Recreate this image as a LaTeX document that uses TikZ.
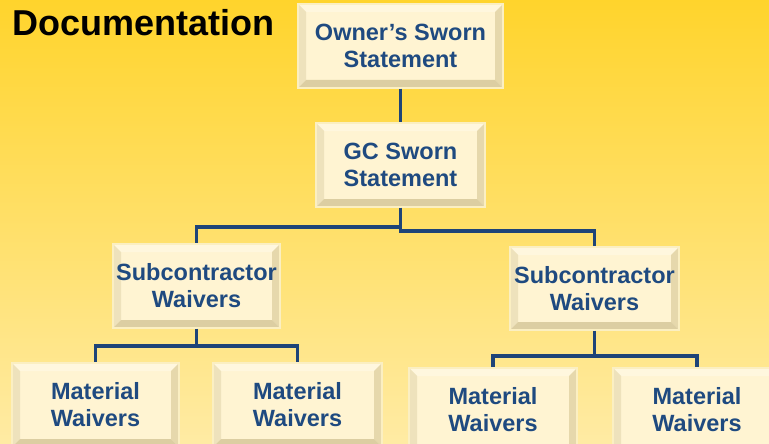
\documentclass[tikz,border=0pt]{standalone}
\usepackage{fontspec}
\setmainfont{Liberation Sans}
\usetikzlibrary{calc}
\definecolor{bgtop}{HTML}{FFD42C}
\definecolor{bgbot}{HTML}{FFEBA4}
\definecolor{face}{HTML}{FFF4D2}
\definecolor{bvtop}{HTML}{FFF7DE}
\definecolor{bvleft}{HTML}{EEE2BC}
\definecolor{bvbot}{HTML}{DCCEA2}
\definecolor{bvright}{HTML}{E6D8AC}
\definecolor{rim}{HTML}{FBEFC2}
\definecolor{txt}{HTML}{1F4A80}
\definecolor{conn}{HTML}{1E4478}
\begin{document}
\begin{tikzpicture}[x=1pt,y=-1pt,
  bevel/.style={path picture={
    \coordinate (pSW) at (path picture bounding box.south west);
    \coordinate (pNW) at (path picture bounding box.north west);
    \coordinate (pNE) at (path picture bounding box.north east);
    \coordinate (pSE) at (path picture bounding box.south east);
    \fill[bvtop] (pNW) -- (pNE) -- ([shift={(-8pt,-8pt)}]pNE) -- ([shift={(8pt,-8pt)}]pNW) -- cycle;
    \fill[bvleft] (pSW) -- (pNW) -- ([shift={(8pt,-8pt)}]pNW) -- ([shift={(8pt,8pt)}]pSW) -- cycle;
    \fill[bvright] (pSE) -- (pNE) -- ([shift={(-8pt,-8pt)}]pNE) -- ([shift={(-8pt,8pt)}]pSE) -- cycle;
    \fill[bvbot] (pSW) -- (pSE) -- ([shift={(-8pt,8pt)}]pSE) -- ([shift={(8pt,8pt)}]pSW) -- cycle;
  }},
  box/.style={bevel, draw=rim, line width=1.5pt, fill=face, inner sep=0pt,
    align=center, text=txt, minimum height=84pt,
    font=\fontsize{23.5}{27}\selectfont\bfseries},
  link/.style={draw=conn, line width=3.5pt}]
\useasboundingbox (0,0) rectangle (769,444);
\clip (0,0) rectangle (769,444);
\shade[top color=bgtop, bottom color=bgbot] (0,0) rectangle (769,444);

\node[anchor=base west, font=\fontsize{36}{40}\selectfont\bfseries, text=black, inner sep=0pt] (title) at (12,36) {Documentation};

\node[box, minimum width=205pt] (owner) at (400.5,46) {Owner’s Sworn\\Statement};
\node[box, minimum width=169pt] (gc) at (400.5,165) {GC Sworn\\Statement};
\node[box, minimum width=167pt] (sub1) at (196.5,286) {Subcontractor\\Waivers};
\node[box, minimum width=169pt, minimum height=83pt] (sub2) at (594.5,288.5) {Subcontractor\\Waivers};
\node[box, minimum width=167pt] (mat1) at (95.5,405) {Material\\Waivers};
\node[box, minimum width=169pt] (mat2) at (297.5,405) {Material\\Waivers};
\node[box, minimum width=168pt] (mat3) at (493,410) {Material\\Waivers};
\node[box, minimum width=168pt] (mat4) at (697,410) {Material\\Waivers};

\draw[link] (owner.south) -- (gc.north);
\draw[link] (gc.south) -- ++(0,19) -| (sub1.north);
\draw[link] (gc.south) -- ++(0,23) -| (sub2.north);
\draw[link] (sub1.south) -- ++(0,17) -| (mat1.north);
\draw[link] (sub1.south) -- ++(0,17) -| (mat2.north);
\draw[link] (sub2.south) -- ++(0,25) -| (mat3.north);
\draw[link] (sub2.south) -- ++(0,25) -| (mat4.north);
\end{tikzpicture}
\end{document}
